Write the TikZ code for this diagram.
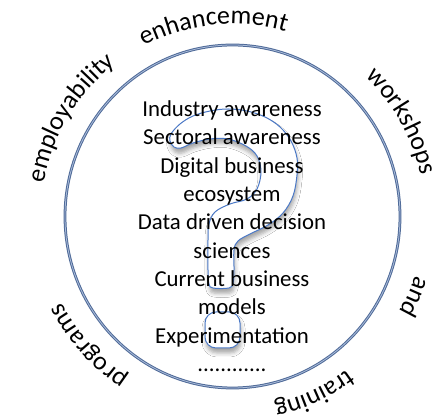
\documentclass[tikz,border=0pt]{standalone}
\usepackage{fontspec}
\setmainfont{Carlito}
\usetikzlibrary{decorations.text,shadows.blur}
\definecolor{circblue}{RGB}{79,106,152}
\definecolor{circlight}{RGB}{170,188,218}
\definecolor{qblue}{RGB}{74,120,198}
\newcommand{\outerfont}{\fontsize{26}{30}\selectfont}
\begin{document}
\begin{tikzpicture}[x=1pt,y=1pt,
  innerline/.style={font=\fontsize{22.8}{28}\selectfont, inner sep=0pt, anchor=base},
  arcword/.style={decorate, decoration={text along path, text align=center, text={|\outerfont|#1}}},
  qshape/.style={draw=qblue, line width=1pt, fill=white,
    blur shadow={shadow xshift=1pt, shadow yshift=-5pt, shadow blur radius=4pt, shadow opacity=35}}
  ]
\useasboundingbox (0,0) rectangle (437,417);
\fill[white] (0,0) rectangle (437,417);
\coordinate (c) at (232.5,200.5);
\draw[circblue, line width=1pt, double=circlight, double distance=0.8pt] (c) ellipse [x radius=167.5, y radius=171.5];
\begin{scope}[shift={(233,201)}]
  \path[arcword={employability}] (188.9:192) arc[start angle=188.9, end angle=108.9, radius=192];
  \path[arcword={enhancement}] (135.9:192) arc[start angle=135.9, end angle=55.9, radius=192];
  \path[arcword={workshops}] (69.35:192) arc[start angle=69.35, end angle=-10.65, radius=192];
  \path[arcword={and}] (16:192) arc[start angle=16, end angle=-64, radius=192];
  \path[arcword={training}] (-25.45:192) arc[start angle=-25.45, end angle=-105.45, radius=192];
  \path[arcword={programs}] (-98.15:192) arc[start angle=-98.15, end angle=-178.15, radius=192];
\end{scope}
\path[qshape] plot[smooth cycle, tension=0.6] coordinates {
 (171,283) (180,293) (193,301) (210,306) (228,308) (247,306) (265,300) (280,290)
 (291,276) (297,259) (297,242) (293,221) (283,204) (268,192) (250,183) (238,176)
 (234,167) (234,147) (233,134) (229,129) (213,129) (209,133) (208,147) (208,177)
 (209,193) (215,205) (230,213) (247,218) (257,228) (261,245) (257,261) (246,271)
 (228,278) (210,278) (193,274) (181,269) (174,270) (170,276)};
\path[qshape, rounded corners=11pt] (205,69) rectangle (240,105);
\node[innerline] (l1) at (232,300.3) {Industry awareness};
\node[innerline] (l2) at (232,272.0) {Sectoral awareness};
\node[innerline] (l3) at (232,243.7) {Digital business};
\node[innerline] (l4) at (232,215.4) {ecosystem};
\node[innerline] (l5) at (232,187.1) {Data driven decision};
\node[innerline] (l6) at (232,158.8) {sciences};
\node[innerline] (l7) at (232,130.5) {Current business};
\node[innerline] (l8) at (232,102.2) {models};
\node[innerline] (l9) at (232,73.9) {Experimentation};
\node[innerline] (l10) at (232,45.6) {............};
\end{tikzpicture}
\end{document}
